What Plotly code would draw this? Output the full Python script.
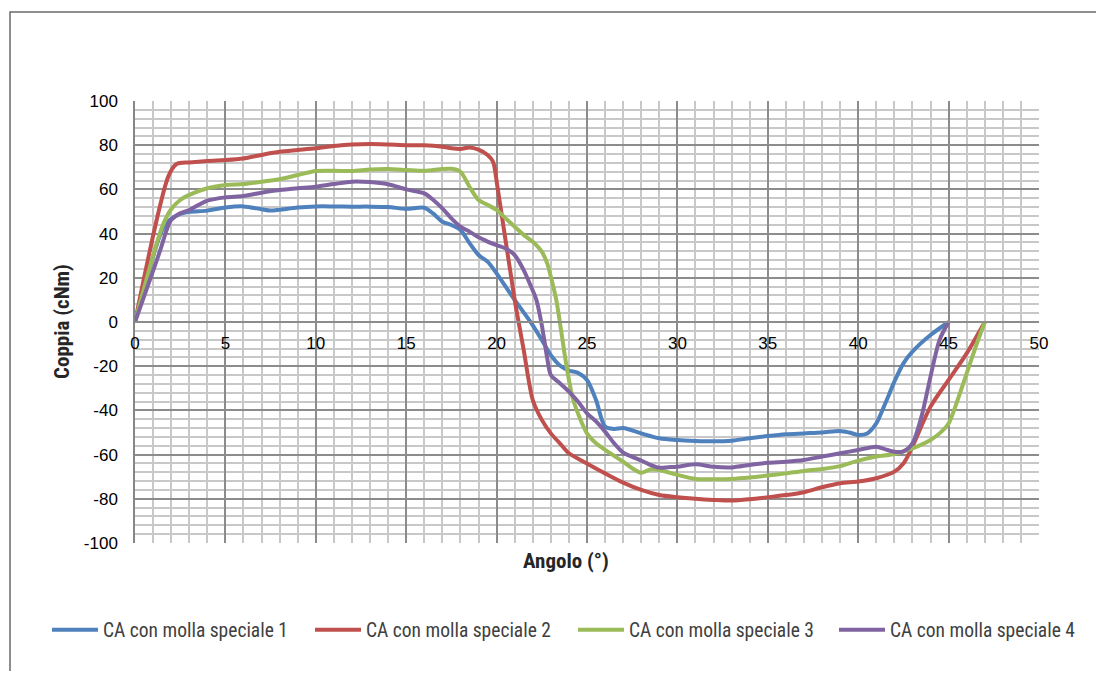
import plotly.graph_objects as go

# ---- data ----
names = ["CA con molla speciale 1", "CA con molla speciale 2",
         "CA con molla speciale 3", "CA con molla speciale 4"]
colors = ["#4F81BD", "#C0504D", "#9BBB59", "#8064A2"]

x1 = [0, 1.5, 1.9, 2.5, 3, 4, 5, 6, 7, 7.5, 8, 9, 10, 11, 12, 13, 14, 15, 16, 16.5, 17, 17.5, 18,
      18.5, 19, 19.5, 20, 20.5, 21, 22, 22.5, 23, 23.5, 24, 24.5, 25, 25.5, 26, 26.5, 27, 28, 29,
      30, 31, 32, 33, 34, 35, 36, 37, 38, 39, 39.5, 40, 40.5, 41, 41.5, 42, 42.5, 43, 44, 45]
y1 = [0, 41.6, 46, 48.9, 49.9, 50.4, 51.8, 52.3, 51, 50.4, 50.8, 51.8, 52.3, 52.3, 52.2, 52.2, 52,
      51.2, 51.7, 49, 45.4, 43.9, 41.6, 35.7, 30.3, 27.3, 22, 16, 10, -1.5, -8.1, -15, -19.7, -22,
      -23, -26.2, -35.3, -47.3, -48.4, -48, -50.4, -52.6, -53.4, -53.8, -54, -53.7, -52.6, -51.6,
      -50.8, -50.4, -50, -49.3, -50, -51.1, -50.4, -45.9, -36.8, -27, -18.7, -13.4, -5.9, 0]

x2 = [0, 1.85, 2.3, 3, 4, 5, 6, 7, 8, 9, 10, 11, 12, 13, 14, 15, 16, 17, 17.5, 18, 18.5, 19,
      19.5, 19.8, 20.05, 21, 21.5, 22, 22.5, 23, 23.5, 24, 25, 26, 27, 28, 29, 30, 31, 32, 33, 34,
      35, 36, 37, 38, 39, 40, 41, 42, 42.5, 43, 44, 45, 46, 47]
y2 = [0, 66, 71.5, 72.2, 72.9, 73.3, 74, 75.6, 77, 77.8, 78.6, 79.6, 80.3, 80.5, 80.3, 80, 80,
      79.3, 78.6, 78.3, 79, 78, 75.6, 72.6, 61, 10, -12.7, -35.3, -44.3, -50.4, -54.9, -59.4, -64,
      -68.5, -72.7, -76, -78.3, -79.3, -80, -80.5, -80.8, -80.2, -79.3, -78.3, -77, -74.8, -73,
      -72.2, -70.7, -67.7, -64, -56.4, -38.3, -26.2, -14.2, 0]

x3 = [0, 1.5, 2, 2.5, 3, 4, 5, 6, 7, 8, 9, 10, 11, 12, 13, 14, 15, 16, 17, 17.5, 18, 18.5, 19,
      19.5, 20, 20.5, 21, 21.5, 22, 22.5, 22.8, 23, 23.3, 23.87, 24.24, 25, 25.5, 26, 27, 27.5, 28,
      28.5, 29, 30, 31, 32, 33, 34, 35, 36, 37, 38, 39, 40, 41, 42, 43, 44, 44.5, 45, 45.5, 46,
      46.5, 47]
y3 = [0, 43, 51, 55.2, 57.5, 60.5, 62, 62.4, 63.5, 64.6, 66.5, 68.3, 68.4, 68.3, 69, 69.2, 68.8,
      68.4, 69.2, 69.3, 68, 61.2, 55.2, 53, 50.7, 46.9, 43.1, 39.4, 36.3, 31.8, 26.5, 20.5, 10,
      -20, -35.3, -50.4, -54.9, -57.9, -63.2, -66.2, -68.2, -66.7, -67, -69.2, -71, -71.1, -71,
      -70.4, -69.5, -68.5, -67.4, -66.5, -65.2, -62.7, -60.9, -59.7, -57.2, -53.4, -50.4, -45.9,
      -35.3, -23.2, -11.2, 0]

x4 = [0, 1.4, 1.75, 2, 2.5, 3, 3.5, 4, 5, 6, 7, 8, 9, 10, 11, 12, 13, 14, 15, 16, 16.5, 17, 17.5,
      18, 18.5, 19, 19.5, 20, 20.5, 21, 21.5, 21.8, 22.2, 22.5, 22.8, 23, 23.5, 24, 24.5, 25,
      25.5, 26, 26.5, 27, 27.5, 28, 28.5, 29, 29.5, 30, 31, 32, 33, 34, 35, 36, 37, 38, 39, 40,
      41, 41.5, 42, 42.5, 43, 43.5, 44, 44.5, 45]
y4 = [0, 32.6, 41.6, 46.1, 49.2, 50.7, 52.9, 54.9, 56.4, 57, 58.5, 59.7, 60.5, 61.2, 62.4, 63.5,
      63.3, 62.3, 60, 58.2, 55.2, 51.4, 46.9, 43.1, 40.9, 38.3, 36.4, 34.8, 33.3, 30.3, 23.5, 18,
      10, -1.4, -16.4, -24, -27.7, -31.5, -36, -41.3, -45, -49.6, -54.9, -59.1, -61, -62.7,
      -64.6, -65.9, -65.7, -65.5, -64.4, -65.5, -65.8, -64.7, -63.7, -63.2, -62.4, -60.9, -59.4,
      -57.9, -56.4, -57.6, -58.7, -58.5, -54.9, -42.8, -24.7, -8.1, 0]

xs = [x1, x2, x3, x4]
ys = [y1, y2, y3, y4]

x_tick_vals = [0, 5, 10, 15, 20, 25, 30, 35, 40, 45, 50]
x_tick_labels = ["0", "5", "10", "15", "20", "25", "30", "35", "40", "45", "50"]
y_tick_vals = [-100, -80, -60, -40, -20, 0, 20, 40, 60, 80, 100]
y_tick_labels = ["-100", "-80", "-60", "-40", "-20", "0", "20", "40", "60", "80", "100"]

x_title = "Angolo (°)"
y_title = "Coppia (cNm)"

NARROW = "Roboto Condensed"
REG = "Liberation Sans"

# the 4th entry goes in a second legend so that all four sit on one row
legend_ids = ["legend", "legend", "legend", "legend2"]

fig = go.Figure()
for xv, yv, n, c, lg in zip(xs, ys, names, colors, legend_ids):
    fig.add_trace(go.Scatter(x=xv, y=yv, name=n, mode="lines", legend=lg,
                             line=dict(color=c, width=4, shape="spline", smoothing=0.8)))

# the page body has an 8px margin; figure is sized/offset so the plot lands
# on screen at x 135..1039, y 101..543
OFF = 8
W, H = 1104 - 2 * OFF, 679 - 2 * OFF
SL, ST, SR, SB = 135, 101, 1039, 543  # plot area in screen pixels
L, T = SL - OFF, ST - OFF
R, B = W - (SR - OFF), H - (SB - OFF)
pw, ph = SR - SL, SB - ST


def px(sx):
    return (sx - SL) / pw


def py(sy):
    return (SB - sy) / ph


def cx(sx):
    return (sx - OFF) / W


def cy(sy):
    return (H - (sy - OFF)) / H


legend_style = dict(orientation="h", xref="container", yref="container",
                    xanchor="left", y=cy(630), yanchor="middle",
                    font=dict(family=NARROW, size=19.5, color="#404040"),
                    entrywidth=202, entrywidthmode="pixels", itemwidth=46,
                    bgcolor="rgba(0,0,0,0)")

fig.update_layout(
    width=W, height=H,
    margin=dict(l=L, r=R, t=T, b=B, pad=0),
    paper_bgcolor="white", plot_bgcolor="white",
    font=dict(family=REG, size=16, color="#000000"),
    showlegend=True,
    legend=dict(legend_style, x=cx(47)),
    legend2=dict(legend_style, x=cx(834)),
    xaxis=dict(range=[0, 50], tickmode="array", tickvals=x_tick_vals, ticktext=x_tick_labels,
               anchor="free", position=0.5,
               showgrid=True, gridcolor="#8c8c8c", gridwidth=1.5,
               minor=dict(tickmode="linear", tick0=0, dtick=1, showgrid=True,
                          gridcolor="#c8c8c8", gridwidth=1.5),
               showline=True, linecolor="#8c8c8c", linewidth=1.5,
               zeroline=False, ticks="", ticklabelstandoff=6,
               tickfont=dict(family=REG, size=17, color="#000000")),
    yaxis=dict(range=[-100, 100], tickmode="array", tickvals=y_tick_vals, ticktext=y_tick_labels,
               showgrid=True, gridcolor="#8c8c8c", gridwidth=1.5,
               minor=dict(tickmode="linear", tick0=0, dtick=4, showgrid=True,
                          gridcolor="#c8c8c8", gridwidth=1.5),
               showline=True, linecolor="#868686", linewidth=1.5,
               zeroline=True, zerolinecolor="#8c8c8c", zerolinewidth=1.5,
               ticks="", ticklabelstandoff=12,
               tickfont=dict(family=REG, size=17, color="#000000")),
)

fig.add_annotation(text="<b>" + x_title + "</b>", xref="paper", yref="paper",
                   x=px(566), y=py(561), xanchor="center", yanchor="middle", showarrow=False,
                   font=dict(family=NARROW, size=21, color="#262626"))
fig.add_annotation(text="<b>" + y_title + "</b>", xref="paper", yref="paper",
                   x=px(62), y=py(322), xanchor="center", yanchor="middle", showarrow=False,
                   textangle=-90, font=dict(family=NARROW, size=21, color="#262626"))

# outer chart frame (only its top-left corner is visible in the reference)
fig.add_shape(type="rect", xref="paper", yref="paper",
              x0=px(10), y0=py(720), x1=px(1130), y1=py(12),
              line=dict(color="#6a6a6a", width=1.5), fillcolor="rgba(0,0,0,0)", layer="above")

fig.write_html("out.html")
